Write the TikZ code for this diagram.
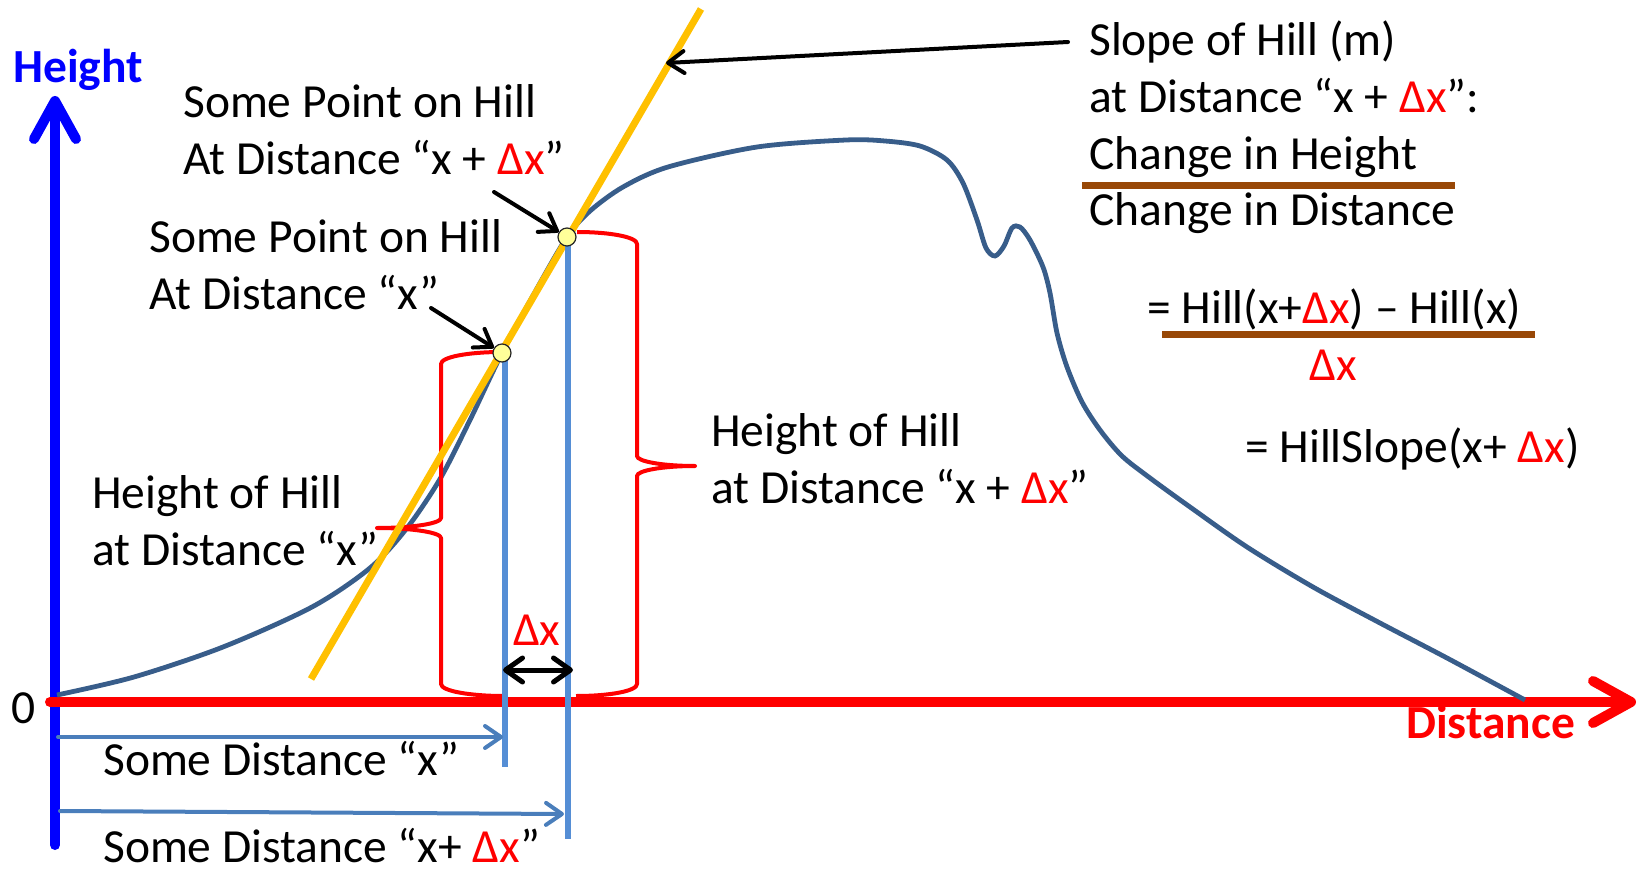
\documentclass[tikz,border=0pt]{standalone}
\usepackage{fontspec}
\setmainfont{Carlito}
\usetikzlibrary{arrows.meta}
\definecolor{hillc}{HTML}{385D8A}
\definecolor{vblue}{HTML}{558ED5}
\definecolor{ablue}{HTML}{4A7EBB}
\definecolor{tang}{HTML}{FFC000}
\definecolor{ptfill}{HTML}{FFFF99}
\definecolor{brownl}{HTML}{984807}
\definecolor{axred}{HTML}{FF0000}
\definecolor{axblue}{HTML}{0000FF}
\newcommand\rdx{{\color{axred}Δx}}
\begin{document}
\begin{tikzpicture}[x=1pt,y=-1pt,
  txt/.style={anchor=base west, inner sep=0pt, font=\fontsize{47.5}{57}\selectfont, align=left},
  axis/.style={line width=10pt, line cap=round, line join=round, -{Straight Barb[round,length=38pt,width=42pt]}},
  hill/.style={draw=hillc, line width=4.8pt},
  tangent/.style={draw=tang, line width=7pt},
  bracel/.style={draw=axred, line width=4pt, line join=round},
  vline/.style={draw=vblue, line width=6pt},
  ptdot/.style={circle, fill=ptfill, draw=black!85, line width=1.2pt, minimum size=18pt, inner sep=0pt},
  blk/.style={draw=black, line width=4pt, line cap=round, -{Straight Barb[round,length=16pt,width=22pt]}},
  blkd/.style={draw=black, line width=5pt, line cap=round, {Straight Barb[round,length=17pt,width=24pt]}-{Straight Barb[round,length=17pt,width=24pt]}},
  dist/.style={draw=ablue, line width=4pt, line cap=round, -{Straight Barb[round,length=16pt,width=22pt]}},
  fracl/.style={draw=brownl, line width=7pt}
]
\useasboundingbox (0,0) rectangle (1639,869);

% axes
\coordinate (yb) at (55,845);
\coordinate (yt) at (55,96);
\coordinate (xl) at (50,702);
\coordinate (xr) at (1636,702);
\draw[axis, draw=axblue] (yb) -- (yt);
\draw[axis, draw=axred] (xl) -- (xr);

% hill
\draw[hill] plot[smooth, tension=0.5] coordinates {(57,695) (134,677) (223,647) (312,607) (370,568) (407,528) (440,479) (470,420) (502,353) (535,292) (567,237) (590,211) (623,187) (668,167) (757,147) (846,140) (885,141) (920,146) (947,160) (963,183) (977,220) (986,248) (995,256) (1004,246) (1012,228) (1020,227) (1030,240) (1043,267) (1050,293) (1057,333) (1067,367) (1082,402) (1100,430) (1122,456) (1150,478) (1190,507) (1247,547) (1313,587) (1380,623) (1447,658) (1525,700)};

% braces
\draw[bracel] (502,352) .. controls (468,352) and (441,357) .. (441,364) -- (441,518) .. controls (441,523.5) and (412,528) .. (377,528) .. controls (412,528) and (441,532.5) .. (441,538) -- (441,684) .. controls (441,691) and (470,696) .. (504,696);
\draw[bracel] (577,232) .. controls (610,232) and (637,237) .. (637,244) -- (637,456) .. controls (637,461.5) and (663,466) .. (695,466) .. controls (663,466) and (637,470.5) .. (637,476) -- (637,684) .. controls (637,691) and (610,696) .. (576,696);

% tangent
\coordinate (tb) at (311,679);
\coordinate (tt) at (701,9);
\draw[tangent] (tb) -- (tt);

% verticals
\coordinate (v1t) at (505,353);
\coordinate (v1b) at (505,767);
\coordinate (v2t) at (568,237);
\coordinate (v2b) at (568,839);
\draw[vline] (v1t) -- (v1b);
\draw[vline] (v2t) -- (v2b);

% points
\node[ptdot] (P1) at (502,353) {};
\node[ptdot] (P2) at (567,237) {};

% black arrows
\coordinate (a1s) at (431,308);
\coordinate (a2s) at (494,192);
\coordinate (a3s) at (1068,42);
\coordinate (a3e) at (666,63);
\draw[blk] (a1s) -- (P1);
\draw[blk] (a2s) -- (P2);
\draw[blk] (a3s) -- (a3e);

% delta x double arrow
\coordinate (dxl) at (503,670);
\coordinate (dxr) at (573,670);
\draw[blkd] (dxl) -- (dxr);

% distance arrows
\coordinate (d1s) at (58,737);
\coordinate (d1e) at (503,737);
\coordinate (d2s) at (60,811);
\coordinate (d2e) at (564,814);
\draw[dist] (d1s) -- (d1e);
\draw[dist] (d2s) -- (d2e);

% fraction lines
\coordinate (f1l) at (1082,186);
\coordinate (f1r) at (1455,186);
\coordinate (f2l) at (1162,334);
\coordinate (f2r) at (1535,334);
\draw[fracl] (f1l) -- (f1r);
\draw[fracl] (f2l) -- (f2r);

% texts (multi-line nodes: base = last line)
\node[txt, font=\fontsize{47.5}{57}\selectfont\bfseries, text=axblue] (hlab) at (13,83) {Height};
\node[txt, font=\fontsize{47.5}{57}\selectfont\bfseries, text=axred] (dlab) at (1406,738) {Distance};
\node[txt] (zero) at (11,723) {0};
\node[txt] (l1) at (183,175) {Some Point on Hill\\At Distance “x + \rdx”};
\node[txt] (l2) at (149,309) {Some Point on Hill\\At Distance “x”};
\node[txt] (l3) at (92,565) {Height of Hill\\at Distance “x”};
\node[txt] (l4) at (711,503) {Height of Hill\\at Distance “x + \rdx”};
\node[txt] (l5) at (1089,226) {Slope of Hill (m)\\at Distance “x + \rdx”:\\Change in Height\\Change in Distance};
\node[txt] (e1) at (1147,323) {= Hill(x+\rdx) – Hill(x)};
\node[txt, anchor=base] (e2) at (1333,380) {\rdx};
\node[txt] (e3) at (1245,462) {= HillSlope(x+ \rdx)};
\node[txt] (sd1) at (103,775) {Some Distance “x”};
\node[txt] (sd2) at (103,862) {Some Distance “x+ \rdx”};
\node[txt] (dxlab) at (513,645) {\rdx};
\end{tikzpicture}
\end{document}
